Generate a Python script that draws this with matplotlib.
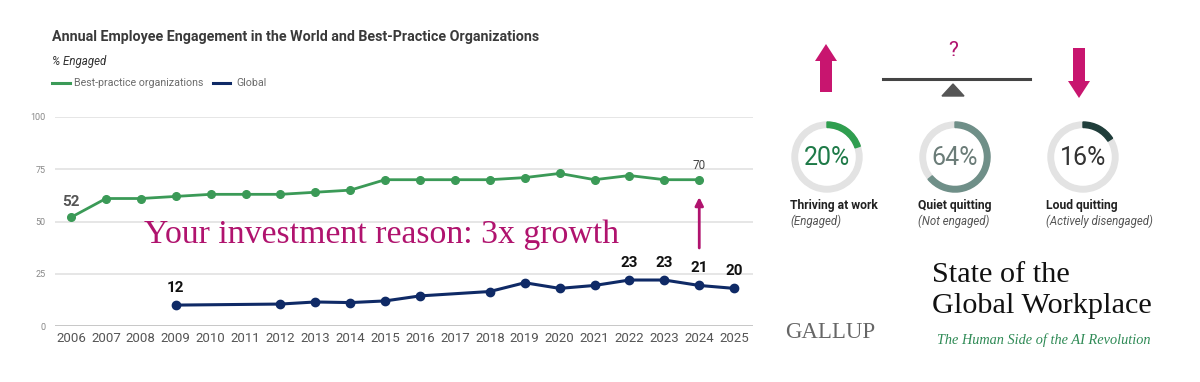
import matplotlib.pyplot as plt
from matplotlib.patches import Wedge, Polygon, FancyArrow

# data
years = list(range(2006, 2026))
best_years = list(range(2006, 2025))
best_vals = [52, 61, 61, 62, 63, 63, 63, 64, 65, 70, 70, 70, 70, 71, 73, 70, 72, 70, 70]
global_years = [2009, 2012, 2013, 2014, 2015, 2016, 2018, 2019, 2020, 2021, 2022, 2023, 2024, 2025]
global_vals = [10, 10.5, 11.5, 11.2, 12, 14.4, 16.5, 20.7, 18, 19.4, 22, 22, 19.4, 18]
global_labels = {2009: "12", 2022: "23", 2023: "23", 2024: "21", 2025: "20"}
best_labels = {2006: "52", 2024: "70"}

donut_pcts = [20, 64, 16]
donut_titles = ["Thriving at work", "Quiet quitting", "Loud quitting"]
donut_subs = ["(Engaged)", "(Not engaged)", "(Actively disengaged)"]

GREEN = "#3b9a57"
NAVY = "#0f2a66"
MAGENTA = "#b0136e"

fig = plt.figure(figsize=(12, 3.82), dpi=100)
W, H = 1200, 382

ax = fig.add_axes([55 / W, 1 - 326 / H, 698 / W, 209 / H])
ax.set_xlim(2005.54, 2025.54)
ax.set_ylim(0, 100)
for s in ax.spines.values():
    s.set_visible(False)
for yv in [25, 50, 75, 100]:
    ax.axhline(yv, color="#e2e2e2", lw=1.2, zorder=0)
ax.axhline(0, color="#bdbdbd", lw=1.2, zorder=0)
ax.set_yticks([0, 25, 50, 75, 100])
ax.set_xticks(years)
ax.tick_params(axis="y", length=0, pad=7, labelsize=6.5, labelcolor="#888888")
ax.tick_params(axis="x", length=0, pad=4, labelsize=9.5, labelcolor="#555555")
for lab in ax.get_xticklabels() + ax.get_yticklabels():
    lab.set_fontfamily("Roboto")

ax.plot(best_years, best_vals, color=GREEN, lw=2, marker="o", ms=5.5, clip_on=False)
ax.plot(global_years, global_vals, color=NAVY, lw=2.2, marker="o", ms=6, clip_on=False)

for yr, txt in best_labels.items():
    v = best_vals[best_years.index(yr)]
    if yr == 2006:
        ax.text(yr, v + 4, txt, ha="center", va="bottom", fontsize=11, fontweight="bold",
                color="#555555", family="Roboto")
    else:
        ax.text(yr, v + 3.5, txt, ha="center", va="bottom", fontsize=8.5,
                color="#444444", family="Roboto")
for yr, txt in global_labels.items():
    v = global_vals[global_years.index(yr)]
    ax.text(yr, v + 5, txt, ha="center", va="bottom", fontsize=11, fontweight="bold",
            color="#111111", family="Roboto")

ax.text(2008.1, 39.5, "Your investment reason: 3x growth", fontsize=24.3, color=MAGENTA,
        family="Liberation Serif", va="baseline")
ax.annotate("", xy=(2024, 63), xytext=(2024, 36),
            arrowprops=dict(arrowstyle="-|>", color=MAGENTA, lw=2, mutation_scale=12))

# header
fig.text(52 / W, 1 - 37 / H, "Annual Employee Engagement in the World and Best-Practice Organizations",
         fontsize=10.3, fontweight="bold", color="#3a3a3a", family="Roboto", va="center")
fig.text(52 / W, 1 - 61 / H, "% Engaged", fontsize=8.3, style="italic", color="#333333",
         family="Roboto", va="center")

# overlay in pixel coordinates
ov = fig.add_axes([0, 0, 1, 1], zorder=-1)
ov.set_xlim(0, W)
ov.set_ylim(H, 0)
ov.axis("off")

ov.plot([52, 70], [83, 83], color=GREEN, lw=2.2)
ov.text(74, 83, "Best-practice organizations", fontsize=7.7, color="#6b6b6b", va="center", family="Roboto")
ov.plot([213, 230], [83, 83], color=NAVY, lw=2.2)
ov.text(236, 83, "Global", fontsize=7.7, color="#6b6b6b", va="center", family="Roboto")

# donuts
cx = [827, 955, 1083]
cy = 157
arc_colors = ["#2f9e4f", "#6f8f88", "#1f3d3a"]
pct_colors = ["#1e7a48", "#6b7c78", "#333333"]
for i, p in enumerate(donut_pcts):
    ov.add_patch(Wedge((cx[i], cy), 35, 0, 360, width=5.5, color="#e3e3e3"))
    ov.add_patch(Wedge((cx[i], cy), 35, -90, -90 + 360 * p / 100, width=5.5, color=arc_colors[i]))
    ov.text(cx[i], cy + 1, f"{p}%", ha="center", va="center", fontsize=18,
            color=pct_colors[i], family="Roboto")
    ov.text(cx[i] - 37, 206, donut_titles[i], fontsize=8.7, fontweight="bold",
            color="#222222", va="center", family="Roboto")
    ov.text(cx[i] - 37, 221, donut_subs[i], fontsize=8.3, style="italic",
            color="#555555", va="center", family="Roboto")

# arrows and seesaw
ov.add_patch(FancyArrow(826, 92, 0, -48, width=12, head_width=22, head_length=17,
                        length_includes_head=True, color="#c8156f", lw=0))
ov.add_patch(FancyArrow(1079, 48, 0, 50, width=12, head_width=22, head_length=17,
                        length_includes_head=True, color="#c8156f", lw=0))
ov.plot([883, 1030], [79, 79], color="#444444", lw=2.2)
ov.add_patch(Polygon([[942, 96], [964, 96], [953, 84]], closed=True, color="#555555"))
ov.text(953, 50, "?", ha="center", va="center", fontsize=15, color=MAGENTA, family="Roboto")

# branding
ov.text(785, 333, "GALLUP", fontsize=16.5, color="#666666", va="center", family="Liberation Serif")
ov.text(932, 275, "State of the", fontsize=21.8, color="#111111", va="center", family="Liberation Serif")
ov.text(932, 306, "Global Workplace", fontsize=21.8, color="#111111", va="center", family="Liberation Serif")
ov.text(937, 340, "The Human Side of the AI Revolution", fontsize=10.3, style="italic",
        color="#2e8a55", va="center", family="Liberation Serif")

fig.savefig("out.png", dpi=100, facecolor="white")
